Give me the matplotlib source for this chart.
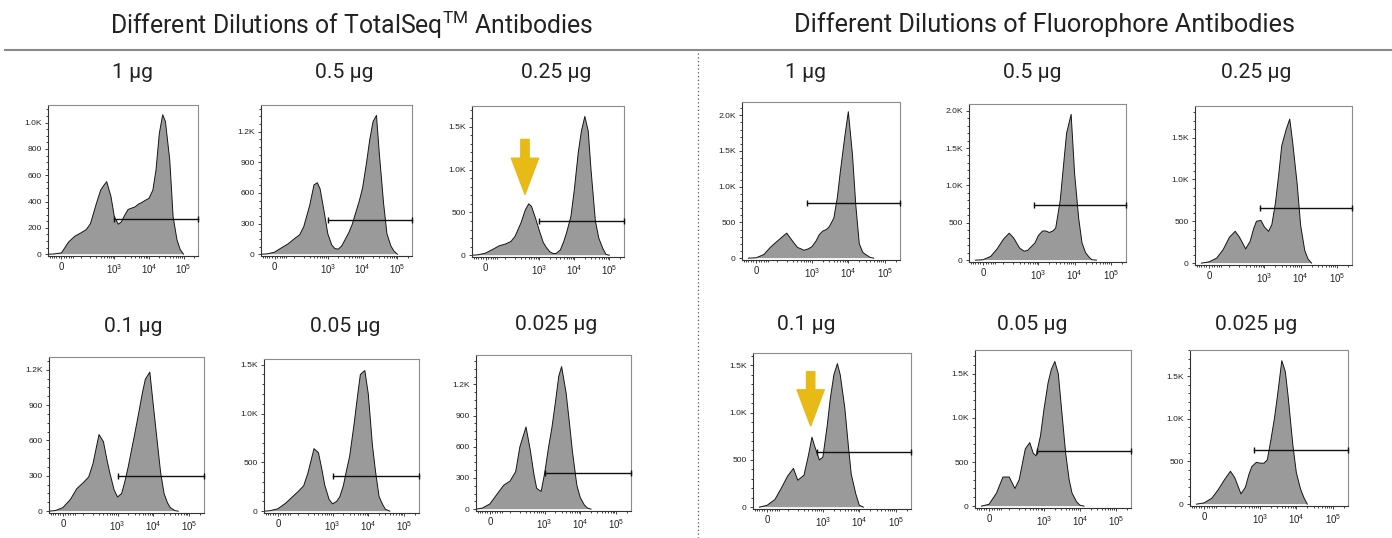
import matplotlib
matplotlib.use("Agg")
import matplotlib.pyplot as plt
import numpy as np
from matplotlib.lines import Line2D
from matplotlib.ticker import AutoMinorLocator, FixedFormatter, FixedLocator, FuncFormatter, MultipleLocator

W, H = 1392, 538

# fluorescence intensity grid shared by all histograms
signal = [-60, -30, 0, 30, 60, 100, 150, 200, 300, 400, 500, 600, 800, 1000, 1300, 1600,
          2000, 2500, 3000, 4000, 5000, 6000, 8000, 10000, 13000, 16000, 20000, 25000,
          30000, 40000, 50000, 65000, 80000, 100000]

# TotalSeq dilutions (cell counts)
totalseq_1ug = [0, 2, 10, 94, 137, 162, 188, 233, 386, 487, 525, 551, 437, 284, 228, 246,
                297, 340, 348, 360, 381, 391, 411, 424, 487, 640, 919, 1060, 1008, 716, 284, 107, 36, 0]
totalseq_05ug = [0, 3, 20, 65, 101, 150, 190, 270, 480, 680, 700, 640, 400, 200, 90, 55,
                 50, 80, 130, 210, 290, 380, 520, 650, 900, 1120, 1300, 1360, 1000, 500, 200, 80, 30, 0]
totalseq_025ug = [0, 5, 25, 70, 110, 130, 160, 220, 380, 530, 600, 570, 420, 290, 150, 90,
                  40, 20, 20, 60, 160, 260, 450, 760, 1200, 1450, 1620, 1450, 1000, 400, 200, 80, 10, 0]
totalseq_01ug = [0, 5, 30, 100, 190, 240, 290, 400, 650, 590, 440, 330, 180, 120, 150, 250,
                 380, 530, 650, 850, 1010, 1120, 1180, 900, 580, 330, 150, 70, 30, 5, 0, 0, 0, 0]
totalseq_005ug = [0, 5, 25, 80, 140, 200, 260, 390, 640, 600, 430, 270, 120, 75, 100, 150,
                  260, 430, 560, 890, 1180, 1400, 1440, 1200, 680, 400, 150, 70, 20, 0, 0, 0, 0, 0]
totalseq_0025ug = [0, 10, 50, 150, 230, 270, 360, 600, 790, 560, 340, 200, 170, 340, 600, 780,
                   1020, 1280, 1370, 1120, 820, 560, 230, 110, 40, 10, 0, 0, 0, 0, 0, 0, 0, 0]

# Fluorophore dilutions (cell counts)
fluor_1ug = [0, 0, 5, 50, 150, 230, 300, 350, 230, 150, 130, 110, 130, 160, 240, 330,
             380, 400, 440, 560, 850, 1200, 1700, 2050, 1450, 750, 200, 80, 50, 10, 0, 0, 0, 0]
fluor_05ug = [0, 0, 5, 50, 150, 280, 360, 300, 160, 120, 130, 170, 230, 330, 390, 390,
              370, 390, 430, 800, 1300, 1700, 1950, 1150, 550, 230, 100, 40, 5, 0, 0, 0, 0, 0]
fluor_025ug = [0, 0, 15, 60, 160, 310, 380, 310, 170, 260, 410, 500, 510, 430, 380, 460,
               710, 1070, 1400, 1600, 1720, 1450, 950, 450, 150, 50, 0, 0, 0, 0, 0, 0, 0, 0]
fluor_01ug = [0, 0, 20, 80, 200, 330, 410, 285, 338, 550, 740, 640, 500, 530, 850, 1150,
              1400, 1520, 1400, 1050, 650, 350, 140, 20, 0, 0, 0, 0, 0, 0, 0, 0, 0, 0]
fluor_005ug = [0, 0, 20, 150, 330, 330, 200, 300, 650, 720, 600, 570, 800, 1100, 1400, 1550,
               1640, 1500, 1150, 600, 300, 150, 50, 10, 0, 0, 0, 0, 0, 0, 0, 0, 0, 0]
fluor_0025ug = [0, 0, 15, 70, 170, 290, 385, 310, 120, 200, 350, 440, 490, 480, 480, 520,
                750, 1000, 1250, 1680, 1550, 1250, 700, 370, 180, 80, 0, 0, 0, 0, 0, 0, 0, 0]

panel_labels = ["1 µg", "0.5 µg", "0.25 µg", "0.1 µg", "0.05 µg", "0.025 µg"]
totalseq_counts = [totalseq_1ug, totalseq_05ug, totalseq_025ug,
                   totalseq_01ug, totalseq_005ug, totalseq_0025ug]
fluor_counts = [fluor_1ug, fluor_05ug, fluor_025ug, fluor_01ug, fluor_005ug, fluor_0025ug]

totalseq_ymax = [1134, 1462, 1742, 1308, 1558, 1482]
fluor_ymax = [2186, 2089, 1877, 1632, 1770, 1805]
totalseq_ystep = [200, 300, 500, 300, 500, 300]
fluor_ystep = [500, 500, 500, 500, 500, 500]

totalseq_gate_start = [1000, 1000, 1000, 1000, 1000, 1000]
totalseq_gate_level = [269, 340, 398, 301, 363, 347]
fluor_gate_start = [730, 730, 730, 700, 650, 700]
fluor_gate_level = [767, 733, 655, 581, 620, 638]

# arrows marking the dim population: (panel index, signal, tail count, tip count)
totalseq_arrow = (2, 390, 1352, 711)
fluor_arrow = (3, 460, 1434, 860)

x_min, x_max = -60, 262144
x_major = [0, 1e3, 1e4, 1e5]
x_major_labels = ["0", r"$\mathregular{10^{3}}$", r"$\mathregular{10^{4}}$", r"$\mathregular{10^{5}}$"]
x_minor = ([-50, -40, -30, -20, -10, 10, 20, 30, 40, 50]
           + [100, 200, 300, 400, 500, 600, 700, 800, 900]
           + [2000, 3000, 4000, 5000, 6000, 7000, 8000, 9000]
           + [20000, 30000, 40000, 50000, 60000, 70000, 80000, 90000, 200000])

# pixel boxes (left, top, right, bottom)
totalseq_boxes = [(48, 105, 198, 256), (261, 105, 412, 256), (472, 106, 624, 257),
                  (49, 357, 204, 513), (264, 359, 419, 513), (476, 355, 631, 511)]
fluor_boxes = [(742, 102, 900, 260), (969, 104, 1126, 262), (1195, 106, 1352, 265),
               (753, 353, 911, 509), (975, 350, 1131, 508), (1190, 350, 1348, 506)]
totalseq_title_xy = [(133, 72), (344, 72), (556, 72), (133, 327), (345, 327), (556, 325)]
fluor_title_xy = [(806, 72), (1032, 72), (1256, 72), (806, 325), (1032, 325), (1256, 325)]

FILL = "#9a9a9a"
ARROW = "#E8BA16"
TITLE_FONT = ["Roboto", "DejaVu Sans"]

plt.rcParams["font.family"] = ["Liberation Sans", "DejaVu Sans"]


def k_format(v, _pos):
    if v >= 1000:
        return f"{v / 1000:.1f}K"
    return f"{int(round(v))}"


def px_box(box):
    l, t, r, b = box
    return [l / W, 1 - b / H, (r - l) / W, (b - t) / H]


def draw_panel(fig, box, counts, ymax, ystep, gate_start, gate_level):
    ax = fig.add_axes(px_box(box))
    ax.set_xscale("asinh", linear_width=59)
    ax.fill_between(signal, counts, 0, facecolor=FILL, edgecolor="none", zorder=1)
    # outline only where the histogram is off the baseline
    nz = np.nonzero(counts)[0]
    lo, hi = max(nz[0] - 1, 0), min(nz[-1] + 1, len(counts) - 1)
    ax.plot(signal[lo:hi + 1], counts[lo:hi + 1], color="#151515", lw=0.7, zorder=2)
    ax.plot([gate_start, x_max], [gate_level, gate_level], color="#111111", lw=1.0,
            marker="|", ms=5, mew=1.0, clip_on=False, zorder=3)

    ax.set_xlim(x_min, x_max)
    ax.set_ylim(-0.012 * ymax, ymax)
    ax.xaxis.set_major_locator(FixedLocator(x_major))
    ax.xaxis.set_major_formatter(FixedFormatter(x_major_labels))
    ax.xaxis.set_minor_locator(FixedLocator(x_minor))
    ax.yaxis.set_major_locator(MultipleLocator(ystep))
    ax.yaxis.set_minor_locator(AutoMinorLocator())
    ax.yaxis.set_major_formatter(FuncFormatter(k_format))

    ax.tick_params(which="both", direction="out", top=False, right=False,
                   colors="#222222", width=0.6, pad=2)
    ax.tick_params(axis="y", labelsize=6.1)
    ax.tick_params(axis="x", labelsize=6.9)
    ax.tick_params(which="major", length=2.5)
    ax.tick_params(which="minor", length=1.3)
    for side in ("left", "bottom"):
        ax.spines[side].set_color("#333333")
        ax.spines[side].set_linewidth(0.8)
    for side in ("top", "right"):
        ax.spines[side].set_color("#8c8c8c")
        ax.spines[side].set_linewidth(0.8)
    return ax


def draw_arrow(ax, x, tail, tip):
    ax.annotate("", xy=(x, tip), xytext=(x, tail),
                arrowprops=dict(arrowstyle="simple,head_length=0.65,head_width=0.49,tail_width=0.15",
                                mutation_scale=40, color=ARROW, shrinkA=0, shrinkB=0))


def main() -> None:
    fig = plt.figure(figsize=(W / 100, H / 100), dpi=100)

    fig.text(352 / W, 1 - 25 / H, r"Different Dilutions of TotalSeq$^{\mathregular{TM}}$ Antibodies",
             ha="center", va="center", fontsize=17.8, family=TITLE_FONT, color="#222222")
    fig.text(1045 / W, 1 - 25 / H, "Different Dilutions of Fluorophore Antibodies",
             ha="center", va="center", fontsize=18.2, family=TITLE_FONT, color="#222222")
    fig.add_artist(Line2D([5 / W, 1.0], [1 - 50.5 / H, 1 - 50.5 / H],
                          transform=fig.transFigure, color="#8a8a8a", lw=1.5))
    fig.add_artist(Line2D([698 / W, 698 / W], [1 - 53 / H, 0.0], transform=fig.transFigure,
                          color="#555555", lw=0.9, linestyle=(0, (1, 2))))

    totalseq_axes = []
    for i in range(6):
        ax = draw_panel(fig, totalseq_boxes[i], totalseq_counts[i], totalseq_ymax[i],
                        totalseq_ystep[i], totalseq_gate_start[i], totalseq_gate_level[i])
        totalseq_axes.append(ax)
        tx, ty = totalseq_title_xy[i]
        fig.text(tx / W, 1 - ty / H, panel_labels[i], ha="center", va="center",
                 fontsize=15.2, family=TITLE_FONT, color="#222222")

    fluor_axes = []
    for i in range(6):
        ax = draw_panel(fig, fluor_boxes[i], fluor_counts[i], fluor_ymax[i],
                        fluor_ystep[i], fluor_gate_start[i], fluor_gate_level[i])
        fluor_axes.append(ax)
        tx, ty = fluor_title_xy[i]
        fig.text(tx / W, 1 - ty / H, panel_labels[i], ha="center", va="center",
                 fontsize=15.2, family=TITLE_FONT, color="#222222")

    idx, x, tail, tip = totalseq_arrow
    draw_arrow(totalseq_axes[idx], x, tail, tip)
    idx, x, tail, tip = fluor_arrow
    draw_arrow(fluor_axes[idx], x, tail, tip)

    fig.savefig("out.png", dpi=100, facecolor="white")


if __name__ == "__main__":
    main()
